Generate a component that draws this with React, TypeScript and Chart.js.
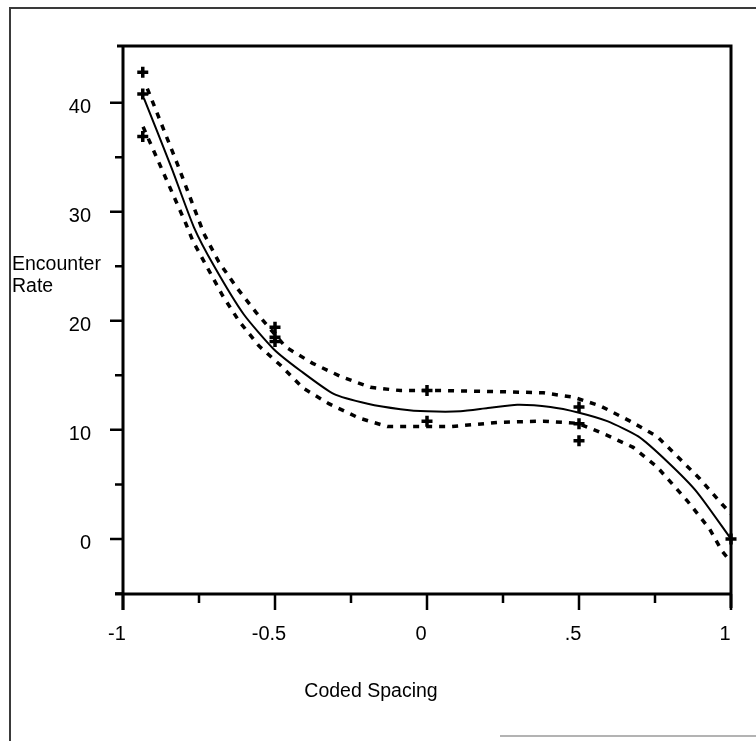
import React, { useEffect, useRef } from "react";
import { Chart, registerables } from "chart.js";

Chart.register(...registerables);

// Fitted curve (solid)
const fitX = [-0.931, -0.84, -0.767, -0.70, -0.603, -0.504, -0.415, -0.307, -0.195, -0.087, 0, 0.11, 0.2, 0.297, 0.406, 0.497, 0.593, 0.695, 0.79, 0.888, 1];
const fitY = [40.4, 34.0, 28.6, 25.0, 20.6, 17.4, 15.4, 13.3, 12.4, 11.9, 11.7, 11.7, 12.0, 12.3, 12.1, 11.6, 10.8, 9.4, 7.1, 4.3, 0];

// Upper confidence band (dotted)
const upperX = [-0.92, -0.82, -0.734, -0.685, -0.622, -0.563, -0.465, -0.376, -0.284, -0.186, -0.087, 0.067, 0.241, 0.383, 0.481, 0.57, 0.668, 0.757, 0.833, 0.898, 0.97, 1];
const upperY = [41.3, 34.3, 28.0, 25.4, 22.9, 20.8, 17.6, 16.1, 14.9, 13.9, 13.6, 13.6, 13.5, 13.4, 13.0, 12.2, 10.8, 9.4, 7.3, 5.5, 3.2, 2.3];

// Lower confidence band (dotted)
const lowerX = [-0.934, -0.793, -0.77, -0.721, -0.672, -0.619, -0.553, -0.481, -0.406, -0.323, -0.225, -0.13, 0.077, 0.241, 0.383, 0.497, 0.593, 0.678, 0.757, 0.856, 0.93, 0.97, 1];
const lowerY = [37.8, 28.9, 27.3, 24.8, 22.3, 20.0, 17.7, 15.9, 13.8, 12.4, 11.1, 10.3, 10.3, 10.7, 10.8, 10.6, 9.5, 8.4, 6.6, 3.5, 0.9, -1.1, -2.1];

// Observations (+ markers)
const obsX = [-0.935, -0.935, -0.935, -0.5, -0.5, -0.5, 0, 0, 0.5, 0.5, 0.5, 1];
const obsY = [42.8, 40.8, 36.9, 19.4, 18.5, 18.1, 13.6, 10.8, 12.1, 10.55, 9.0, 0];

// Axes
const xTicks = [-1, -0.75, -0.5, -0.25, 0, 0.25, 0.5, 0.75, 1];
const xTickLabels = ["-1", "", "-0.5", "", "0", "", ".5", "", "1"];
const yTicks = [-5, 0, 5, 10, 15, 20, 25, 30, 35, 40];
const yTickLabels = ["", "0", "", "10", "", "20", "", "30", "", "40"];
const xTitle = "Coded Spacing";
const yTitle = ["Encounter", "Rate"];

const FONT = "'Liberation Sans', Arial, Helvetica, sans-serif";

const framePlugin = {
  id: "framePlugin",
  afterDraw(chart: any) {
    const { ctx, chartArea: a, scales } = chart;
    const xs = scales.x;
    const ys = scales.y;
    ctx.save();
    ctx.strokeStyle = "#000";
    ctx.lineCap = "butt";
    ctx.lineWidth = 3;
    ctx.beginPath();
    ctx.moveTo(a.left - 6, a.top);
    ctx.lineTo(a.right + 1.5, a.top);
    ctx.moveTo(a.left - 8, a.bottom);
    ctx.lineTo(a.right + 1.5, a.bottom);
    ctx.moveTo(a.left, a.top - 1.5);
    ctx.lineTo(a.left, a.bottom + 16);
    ctx.moveTo(a.right, a.top - 1.5);
    ctx.lineTo(a.right, a.bottom + 14);
    ctx.stroke();

    ctx.lineWidth = 2.5;
    ctx.beginPath();
    xTicks.forEach((v, i) => {
      const px = xs.getPixelForValue(v);
      const len = xTickLabels[i] ? 16 : 9;
      ctx.moveTo(px, a.bottom);
      ctx.lineTo(px, a.bottom + len);
    });
    yTicks.forEach((v, i) => {
      const py = ys.getPixelForValue(v);
      const len = yTickLabels[i] ? 13 : 8;
      ctx.moveTo(a.left - len, py);
      ctx.lineTo(a.left, py);
    });
    ctx.stroke();

    // axis titles
    ctx.fillStyle = "#000";
    ctx.font = `19.5px ${FONT}`;
    ctx.textAlign = "center";
    ctx.textBaseline = "middle";
    ctx.fillText(xTitle, 371, 692);
    ctx.textAlign = "left";
    ctx.textBaseline = "alphabetic";
    ctx.fillText(yTitle[0], 12, 270);
    ctx.fillText(yTitle[1], 12, 292);

    // outer frame
    ctx.strokeStyle = "#3a3a3a";
    ctx.lineWidth = 2;
    ctx.beginPath();
    ctx.moveTo(9, 8);
    ctx.lineTo(756, 8);
    ctx.moveTo(10, 8);
    ctx.lineTo(10, 741);
    ctx.stroke();
    ctx.strokeStyle = "#9a9a9a";
    ctx.lineWidth = 1.5;
    ctx.beginPath();
    ctx.moveTo(500, 736);
    ctx.lineTo(756, 736);
    ctx.stroke();
    ctx.restore();
  },
};

export default function App() {
  const ref = useRef<HTMLCanvasElement | null>(null);
  useEffect(() => {
    if (!ref.current) return;
    const toPts = (xs: number[], ys: number[]) => xs.map((x, i) => ({ x, y: ys[i] }));
    const chart = new Chart(ref.current, {
      type: "scatter",
      data: {
        datasets: [
          {
            label: "Upper",
            data: toPts(upperX, upperY),
            showLine: true,
            borderColor: "#000",
            borderWidth: 3.5,
            borderDash: [6, 7],
            pointRadius: 0,
            tension: 0,
          },
          {
            label: "Lower",
            data: toPts(lowerX, lowerY),
            showLine: true,
            borderColor: "#000",
            borderWidth: 3.5,
            borderDash: [6, 7],
            pointRadius: 0,
            tension: 0,
          },
          {
            label: "Fit",
            data: toPts(fitX, fitY),
            showLine: true,
            borderColor: "#000",
            borderWidth: 2,
            pointRadius: 0,
            tension: 0.2,
          },
          {
            label: "Observed",
            data: toPts(obsX, obsY),
            showLine: false,
            pointStyle: "cross",
            pointRadius: 5.5,
            pointBorderWidth: 3.5,
            borderColor: "#000",
            backgroundColor: "#000",
            clip: false,
          } as any,
        ],
      },
      options: {
        responsive: false,
        animation: false,
        devicePixelRatio: 1,
        layout: { padding: { left: 0, top: 46, right: 25, bottom: 0 } },
        plugins: { legend: { display: false }, tooltip: { enabled: false } },
        scales: {
          x: {
            type: "linear",
            min: -1,
            max: 1,
            grid: { display: false, drawTicks: true, tickLength: 28 },
            border: { display: false },
            afterBuildTicks: (s: any) => {
              s.ticks = xTicks.map((v) => ({ value: v }));
            },
            afterFit: (s: any) => {
              s.height = 147;
            },
            ticks: {
              autoSkip: false,
              maxRotation: 0,
              padding: 0,
              labelOffset: -6,
              color: "#000",
              font: { family: FONT, size: 20 },
              callback: (_v: any, i: number) => xTickLabels[i],
            },
          },
          y: {
            type: "linear",
            min: -5.05,
            max: 45.2,
            grid: { display: false, drawTicks: false },
            border: { display: false },
            afterBuildTicks: (s: any) => {
              s.ticks = yTicks.map((v) => ({ value: v }));
            },
            afterFit: (s: any) => {
              s.width = 123;
            },
            ticks: {
              autoSkip: false,
              padding: 32,
              labelOffset: 5,
              color: "#000",
              font: { family: FONT, size: 20 },
              callback: (_v: any, i: number) => yTickLabels[i],
            },
          },
        },
      },
      plugins: [framePlugin],
    });
    return () => chart.destroy();
  }, []);

  return (
    <div style={{ position: "fixed", left: 0, top: 0, width: 756, height: 741, background: "#fff" }}>
      <canvas ref={ref} width={756} height={741} style={{ display: "block", width: 756, height: 741 }} />
    </div>
  );
}
